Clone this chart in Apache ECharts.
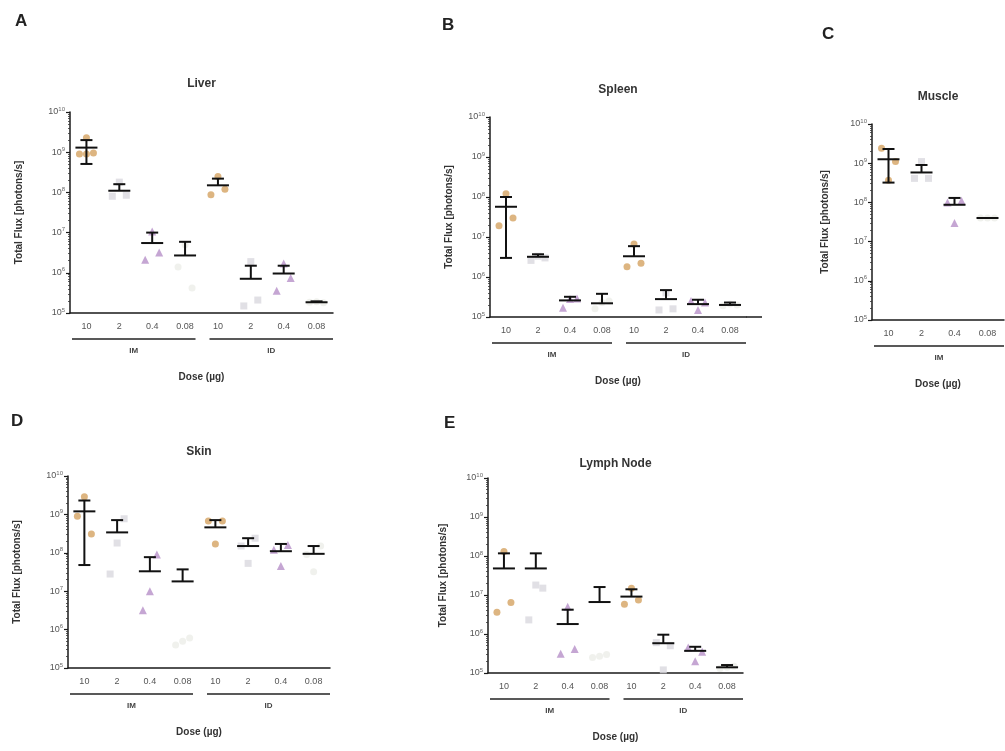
<!DOCTYPE html>
<html><head><meta charset="utf-8">
<script src="https://cdn.jsdelivr.net/npm/echarts@6/dist/echarts.min.js"></script>
<style>html,body{margin:0;padding:0;background:#fff}#c{width:1005px;height:751px}</style>
</head><body><div id="c"></div>
<script>
// ---------- data ----------
const categories = ['10','2','0.4','0.08','10','2','0.4','0.08'];
const categoriesIM = ['10','2','0.4','0.08'];
const yTicks = [1e5,1e6,1e7,1e8,1e9,1e10];

const liverMean  = [1.3e9, 1.1e8, 5.5e6, 2.7e6, 1.5e8, 7.1e5, 9.6e5, 1.85e5];
const liverUpper = [2.0e9, 1.6e8, 1.0e7, 5.9e6, 2.2e8, 1.5e6, 1.5e6, 1.95e5];
const liverLower = [5.1e8, null, null, null, null, null, null, null];
const liverPoints = [[2.3e9, 9e8, 9.5e8, 9e8],[1.8e8, 8e7, 8.5e7],[1.07e7, 2.1e6, 3.2e6],[5e6, 1.4e6, 4.2e5],
                     [2.5e8, 8.7e7, 1.2e8],[1.9e6, 1.5e5, 2.1e5],[1.7e6, 3.6e5, 7.4e5],[1.9e5, 1.85e5, 1.8e5]];

const spleenMean  = [5.7e7, 3.2e6, 2.6e5, 2.2e5, 3.3e6, 2.8e5, 2.1e5, 2.0e5];
const spleenUpper = [1.0e8, 3.7e6, 3.2e5, 3.8e5, 5.9e6, 4.7e5, 2.7e5, 2.3e5];
const spleenLower = [3.0e6, null, null, null, null, null, null, null];
const spleenPoints = [[1.2e8, 1.9e7, 3.0e7],[3.3e6, 2.6e6, 3.0e6],[2.8e5, 1.7e5, 2.9e5],[2.3e5, 1.6e5, 2.5e5],
                      [6.7e6, 1.8e6, 2.2e6],[4e5, 1.5e5, 1.6e5],[1.5e5, 2.5e5, 2.3e5],[2.1e5, 1.9e5, 2.0e5]];

const muscleMean  = [1.26e9, 5.8e8, 8.7e7, 4.0e7];
const muscleUpper = [2.3e9, 9e8, 1.3e8, null];
const muscleLower = [3.2e8, null, null, null];
const musclePoints = [[3.7e8, 2.4e9, 1.1e9],[1.1e9, 4.1e8, 4.1e8],[3e7, 1.0e8, 1.1e8],[4e7, 4e7, 4e7]];

const skinMean  = [1.2e9, 3.4e8, 3.3e7, 1.8e7, 4.6e8, 1.5e8, 1.1e8, 9.4e7];
const skinUpper = [2.3e9, 7.1e8, 7.7e7, 3.7e7, 7.1e8, 2.4e8, 1.7e8, 1.5e8];
const skinLower = [4.8e7, null, null, null, null, null, null, null];
const skinPoints = [[2.9e9, 9e8, 3.1e8],[1.8e8, 2.8e7, 7.7e8],[1.0e7, 3.2e6, 9e7],[5e5, 4e5, 6e5],
                    [1.7e8, 6.7e8, 6.7e8],[5.3e7, 1.5e8, 2.4e8],[4.5e7, 1.2e8, 1.6e8],[3.2e7, 9e7, 1.5e8]];

const lymphMean  = [4.8e7, 4.8e7, 1.8e6, 6.6e6, 9.1e6, 5.8e5, 3.7e5, 1.4e5];
const lymphUpper = [1.17e8, 1.17e8, 4.2e6, 1.6e7, 1.4e7, 9.6e5, 4.7e5, 1.6e5];
const lymphLower = [null, null, null, null, null, null, null, null];
const lymphPoints = [[1.3e8, 3.6e6, 6.4e6],[1.8e7, 2.3e6, 1.5e7],[5e6, 3.1e5, 4.1e5],[2.7e5, 2.5e5, 3e5],
                     [1.5e7, 5.8e6, 7.4e6],[1.2e5, 6e5, 5e5],[2e5, 4.5e5, 3.5e5],[1.4e5, 1.3e5, 1.5e5]];

// ---------- layout / style ----------
const FONT = '"Liberation Sans", Arial, sans-serif';
const doseColors  = ['#d4a262', '#dad8de', '#b690c8', '#eceee9'];
const doseSymbols = ['circle', 'rect', 'triangle', 'circle'];
const jitter = [0, -7, 7, 0];

const panels = [
  {letter:'A', title:'Liver', cats:categories, mean:liverMean, up:liverUpper, lo:liverLower, pts:liverPoints,
   grid:{left:70, top:112, width:263, height:201}, letterPos:[15,13], titleY:78, nameGap:46, axisExt:0},
  {letter:'B', title:'Spleen', cats:categories, mean:spleenMean, up:spleenUpper, lo:spleenLower, pts:spleenPoints,
   grid:{left:490, top:117, width:256, height:200}, letterPos:[442,17], titleY:84, nameGap:36, axisExt:16},
  {letter:'C', title:'Muscle', cats:categoriesIM, mean:muscleMean, up:muscleUpper, lo:muscleLower, pts:musclePoints,
   grid:{left:872, top:124, width:132, height:196}, letterPos:[822,26], titleY:91, nameGap:42, axisExt:0},
  {letter:'D', title:'Skin', cats:categories, mean:skinMean, up:skinUpper, lo:skinLower, pts:skinPoints,
   grid:{left:68, top:476, width:262, height:192}, letterPos:[11,413], titleY:446, nameGap:46, axisExt:0},
  {letter:'E', title:'Lymph Node', cats:categories, mean:lymphMean, up:lymphUpper, lo:lymphLower, pts:lymphPoints,
   grid:{left:488, top:478, width:255, height:195}, letterPos:[444,415], titleY:458, nameGap:40, axisExt:0}
];

const grids = [], xAxes = [], yAxes = [], series = [], graphics = [];

panels.forEach((p, i) => {
  grids.push(Object.assign({containLabel:false}, p.grid));
  xAxes.push({
    type:'category', gridIndex:i, data:p.cats, boundaryGap:true,
    axisLine:{lineStyle:{color:'#1a1a1a', width:1.5}},
    axisTick:{show:false},
    axisLabel:{fontFamily:FONT, fontSize:9, color:'#555', margin:9, interval:0}
  });
  yAxes.push({
    type:'log', logBase:10, gridIndex:i, min:yTicks[0], max:yTicks[yTicks.length-1],
    name:'Total Flux [photons/s]', nameLocation:'middle', nameGap:p.nameGap, nameRotate:90,
    nameTextStyle:{fontFamily:FONT, fontSize:10, fontWeight:'bold', color:'#333'},
    axisLine:{show:true, lineStyle:{color:'#1a1a1a', width:1.5}},
    axisTick:{show:true, length:4, lineStyle:{color:'#1a1a1a', width:1.2}},
    minorTick:{show:true, splitNumber:9, length:2, lineStyle:{color:'#333', width:0.8}},
    splitLine:{show:false},
    axisLabel:{
      margin:5, fontFamily:FONT, color:'#555',
      formatter: v => '{b|10}{s|' + Math.round(Math.log10(v)) + '}',
      rich:{b:{fontSize:9, fontFamily:FONT, color:'#555'}, s:{fontSize:6, fontFamily:FONT, color:'#666', padding:[0,0,6,0]}}
    }
  });

  // scatter points
  const sdata = [];
  p.pts.forEach((arr, g) => {
    const dose = g % 4;
    arr.forEach((v, k) => {
      sdata.push({value:[g, v], symbol:doseSymbols[dose], symbolSize: dose===2 ? 8 : 7,
        symbolOffset:[jitter[k % jitter.length], 0], itemStyle:{color:doseColors[dose]}});
    });
  });
  series.push({type:'scatter', xAxisIndex:i, yAxisIndex:i, data:sdata, z:1, silent:true});

  // mean + error bars
  const edata = p.mean.map((m, g) => [g, m, p.up[g] == null ? '-' : p.up[g], p.lo[g] == null ? '-' : p.lo[g]]);
  series.push({
    type:'custom', xAxisIndex:i, yAxisIndex:i, z:3, silent:true,
    data:edata,
    encode:{x:0, y:1},
    renderItem:(params, api) => {
      const g = api.value(0), m = api.value(1), u = api.value(2), l = api.value(3);
      const pm = api.coord([g, m]);
      const st = {stroke:'#111', lineWidth:2};
      const ch = [{type:'line', shape:{x1:pm[0]-11, y1:pm[1], x2:pm[0]+11, y2:pm[1]}, style:st}];
      if (!isNaN(u)) {
        const pu = api.coord([g, u]);
        ch.push({type:'line', shape:{x1:pm[0], y1:pm[1], x2:pm[0], y2:pu[1]}, style:st});
        ch.push({type:'line', shape:{x1:pm[0]-6, y1:pu[1], x2:pm[0]+6, y2:pu[1]}, style:st});
      }
      if (!isNaN(l)) {
        const pl = api.coord([g, l]);
        ch.push({type:'line', shape:{x1:pm[0], y1:pm[1], x2:pm[0], y2:pl[1]}, style:st});
        ch.push({type:'line', shape:{x1:pm[0]-6, y1:pl[1], x2:pm[0]+6, y2:pl[1]}, style:st});
      }
      return {type:'group', children:ch};
    }
  });

  // annotations
  const G = p.grid, bottom = G.top + G.height, band = G.width / p.cats.length;
  const cx = G.left + G.width / 2;
  if (p.axisExt > 0) {
    graphics.push({type:'line', shape:{x1:G.left + G.width, y1:bottom, x2:G.left + G.width + p.axisExt, y2:bottom},
      style:{stroke:'#1a1a1a', lineWidth:1.5}});
  }
  graphics.push({type:'text', left:p.letterPos[0], top:p.letterPos[1],
    style:{text:p.letter, font:'bold 17px ' + FONT, fill:'#222'}});
  graphics.push({type:'text', x:cx, y:p.titleY,
    style:{text:p.title, font:'bold 12px ' + FONT, fill:'#333', textAlign:'center', textVerticalAlign:'top'}});
  const lineY = bottom + 26;
  const groupsN = p.cats.length / 4;
  const names = ['IM', 'ID'];
  for (let k = 0; k < groupsN; k++) {
    const x1 = G.left + k * 4 * band + (k === 0 ? 2 : 8);
    const x2 = G.left + (k + 1) * 4 * band - (k === groupsN - 1 ? 0 : 6);
    graphics.push({type:'line', shape:{x1:x1, y1:lineY, x2:x2, y2:lineY}, style:{stroke:'#222', lineWidth:1.3}});
    graphics.push({type:'text', x:(x1 + x2) / 2, y:lineY + 8,
      style:{text:names[k], font:'bold 8px ' + FONT, fill:'#444', textAlign:'center', textVerticalAlign:'top'}});
  }
  graphics.push({type:'text', x:cx, y:lineY + 33,
    style:{text:'Dose (µg)', font:'bold 10px ' + FONT, fill:'#333', textAlign:'center', textVerticalAlign:'top'}});
});

const chart = echarts.init(document.getElementById('c'), null, {renderer:'canvas'});
chart.setOption({
  backgroundColor:'#fff',
  animation:false,
  grid:grids, xAxis:xAxes, yAxis:yAxes, series:series,
  graphic:{elements:graphics}
});
</script></body></html>
